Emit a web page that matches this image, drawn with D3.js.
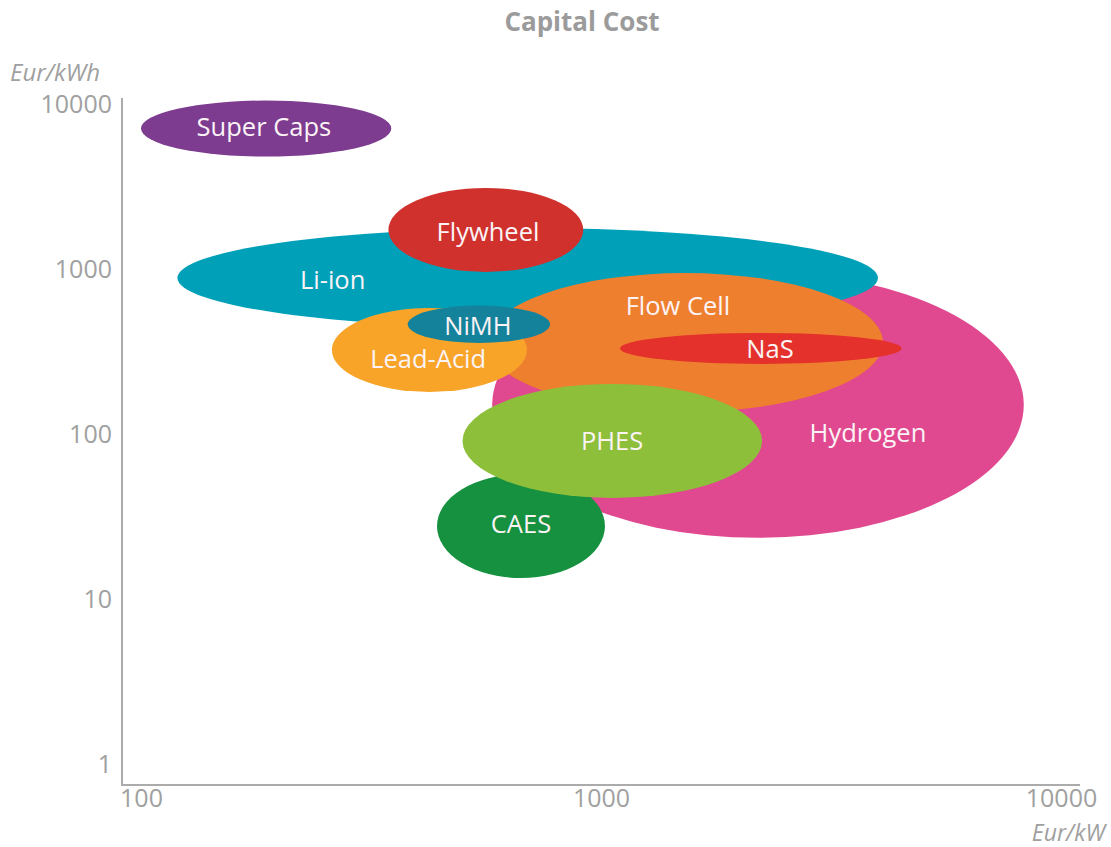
<!DOCTYPE html>
<html><head><meta charset="utf-8">
<script src="https://cdn.jsdelivr.net/npm/d3@7"></script>
<style>html,body{margin:0;padding:0;background:#fff;}svg{display:block;}</style>
</head><body>
<svg id="chart" width="1111" height="847"></svg>
<script>
// ---- data (drawing order = layering order) ----
const technologies = ["Super Caps","Hydrogen","Li-ion","Flywheel","Flow Cell","Lead-Acid","NiMH","NaS","CAES","PHES"];
const powerCostMin  = [100, 580, 120, 345, 565, 260, 380, 1100, 440, 500];   // Eur/kW
const powerCostMax  = [350, 8300, 4000, 915, 4100, 690, 775, 4500, 1020, 2240];
const energyCostMin = [4800, 23.5, 440, 960, 136, 180, 356, 266, 13.4, 41];  // Eur/kWh
const energyCostMax = [10500, 960, 1770, 3100, 945, 580, 600, 410, 57, 201];
const labelPower    = [185, 3805, 261, 568, 1470, 421, 540, 2330, 670, 1057];
const labelEnergy   = [7360, 103, 870, 1700, 605, 289, 458, 332, 28.9, 92];
const colors = ["#7D3C8F","#E0488F","#00A1B8","#D0312D","#EE7F2E","#F7A428","#14829A","#E4312B","#16913F","#8DBF3B"];
const xTicks = [100, 1000, 10000];
const yTicks = [1, 10, 100, 1000, 10000];

const svg = d3.select("#chart");
const font = "'Open Sans', 'Noto Sans', sans-serif";
const x = d3.scaleLog().domain([100, 10000]).range([141, 1061]);
const y = d3.scaleLog().domain([1, 10000]).range([764, 104]);

// title
svg.append("text").attr("x", 582).attr("y", 31).attr("text-anchor","middle")
  .attr("font-family", font).attr("font-weight", 700).attr("font-size", 26)
  .attr("fill", "#9b9b9b").text("Capital Cost");

// ellipses
const data = technologies.map((t,i)=>({name:t, x0:powerCostMin[i], x1:powerCostMax[i], y0:energyCostMin[i], y1:energyCostMax[i], lx:labelPower[i], ly:labelEnergy[i], c:colors[i]}));
const g = svg.append("g");
g.selectAll("ellipse").data(data).join("ellipse")
  .attr("cx", d => (x(d.x0)+x(d.x1))/2)
  .attr("cy", d => (y(d.y0)+y(d.y1))/2)
  .attr("rx", d => (x(d.x1)-x(d.x0))/2)
  .attr("ry", d => (y(d.y0)-y(d.y1))/2)
  .attr("fill", d => d.c);

g.selectAll("text.lbl").data(data).join("text").attr("class","lbl")
  .attr("x", d => x(d.lx)).attr("y", d => y(d.ly))
  .attr("text-anchor","middle").attr("dominant-baseline","central")
  .attr("font-family", font).attr("font-size", 25.5)
  .attr("fill", "#fbf3f6").text(d => d.name);

// axes
const axisColor = "#ababab";
const yAxis = svg.append("g").attr("transform","translate(122,0)")
  .call(d3.axisLeft(y).tickValues(yTicks).tickFormat(d3.format("d")).tickSize(0).tickPadding(10));
yAxis.select(".domain").remove();
yAxis.append("line").attr("x1",0).attr("x2",0).attr("y1",98).attr("y2",785).attr("stroke",axisColor).attr("stroke-width",2);
yAxis.selectAll(".tick text").attr("font-family", font).attr("font-size", 25).attr("fill","#a0a0a0");

const xAxis = svg.append("g").attr("transform","translate(0,785)")
  .call(d3.axisBottom(x).tickValues(xTicks).tickFormat(d3.format("d")).tickSize(0).tickPadding(4));
xAxis.select(".domain").remove();
xAxis.append("line").attr("x1",121).attr("x2",1080).attr("y1",0).attr("y2",0).attr("stroke",axisColor).attr("stroke-width",2);
xAxis.selectAll(".tick text").attr("font-family", font).attr("font-size", 25).attr("fill","#a0a0a0");

// axis unit labels
svg.append("text").attr("x", 10).attr("y", 81).attr("font-family", font).attr("font-style","italic")
  .attr("font-size", 24).attr("fill","#a0a0a0").text("Eur/kWh");
svg.append("text").attr("x", 1105).attr("y", 841).attr("text-anchor","end").attr("font-family", font).attr("font-style","italic")
  .attr("font-size", 23).attr("fill","#a0a0a0").text("Eur/kW");
</script>
</body></html>
